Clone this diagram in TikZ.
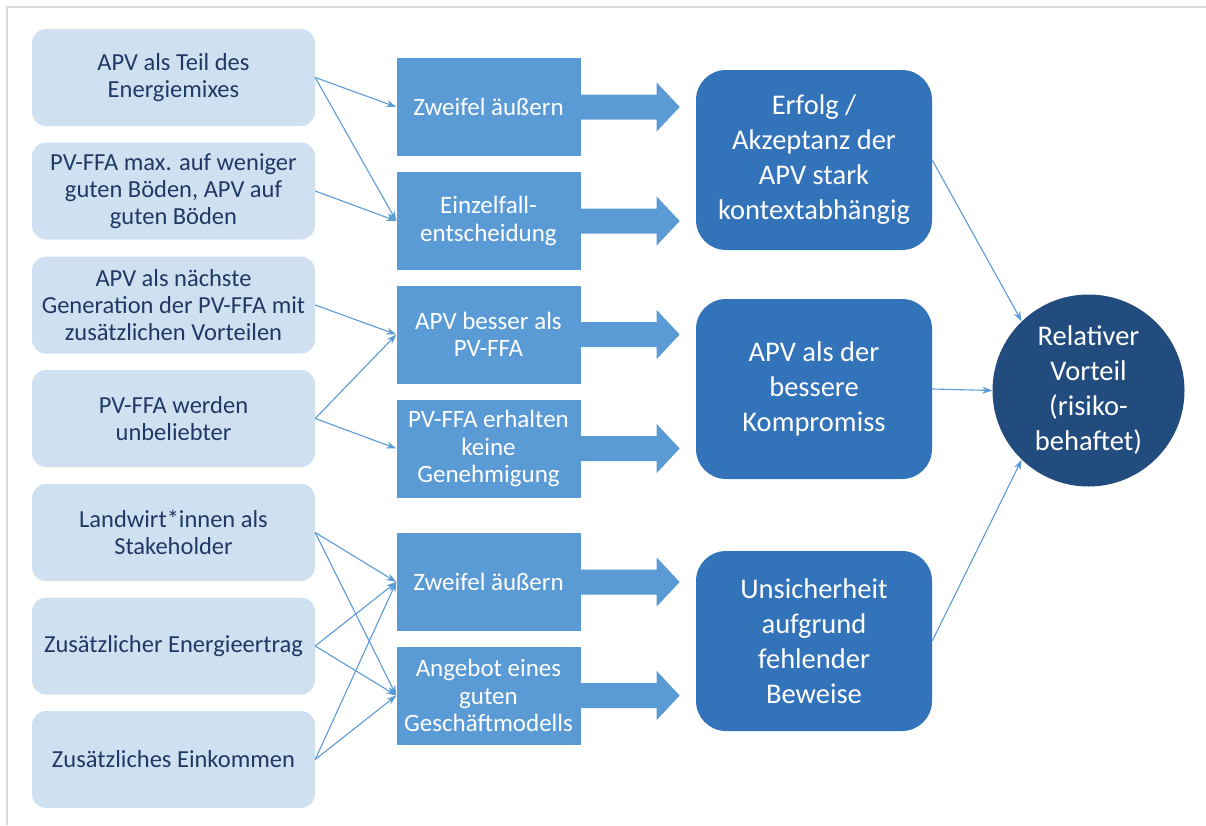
\documentclass[tikz,border=0pt]{standalone}
\usepackage{fontspec}
\setmainfont{Carlito}
\usetikzlibrary{arrows.meta,calc}
\definecolor{lightbox}{HTML}{CFE0F1}
\definecolor{midbox}{HTML}{5B9BD5}
\definecolor{darkbox}{HTML}{3373B9}
\definecolor{navy}{HTML}{224C7E}
\definecolor{txt}{HTML}{203864}
\definecolor{framegray}{HTML}{DADADA}
\begin{document}
\begin{tikzpicture}[x=1pt,y=-1pt,
  lbox/.style={fill=lightbox, rounded corners=14pt, minimum width=283pt, minimum height=97pt, align=center, text=txt, font=\fontsize{24.5}{27}\selectfont, inner sep=0pt},
  mbox/.style={fill=midbox, minimum width=184pt, minimum height=98pt, align=center, text=white, font=\fontsize{25}{27.5}\selectfont, inner sep=0pt},
  rbox/.style={fill=darkbox, rounded corners=30pt, minimum width=236pt, minimum height=180pt, align=center, text=white, font=\fontsize{28.5}{35}\selectfont, inner sep=0pt},
  circ/.style={circle, fill=navy, minimum size=192pt, align=center, text=white, font=\fontsize{28.5}{35}\selectfont, inner sep=0pt},
  conn/.style={draw=midbox, line width=1.1pt, -{Stealth[length=10pt,width=7pt]}},
  blockarrow/.style={fill=midbox},
  framepen/.style={draw=framegray, line width=1.5pt}
]
\useasboundingbox (0,0) rectangle (1206,825);
\draw[framepen] (7,825) -- (7,7) -- (1206,7);

% left boxes
\node[lbox] (L1) at (173.5,77.5) {APV als Teil des\\Energiemixes};
\node[lbox] (L2) at (173.5,191) {PV-FFA max. auf weniger\\guten Böden, APV auf\\guten Böden};
\node[lbox] (L3) at (173.5,305) {APV als nächste\\Generation der PV-FFA mit\\zusätzlichen Vorteilen};
\node[lbox] (L4) at (173.5,418.5) {PV-FFA werden\\unbeliebter};
\node[lbox] (L5) at (173.5,532.5) {Landwirt*innen als\\Stakeholder};
\node[lbox] (L6) at (173.5,646) {Zusätzlicher Energieertrag};
\node[lbox] (L7) at (173.5,759.5) {Zusätzliches Einkommen};

% middle boxes
\node[mbox] (M1) at (488.5,107) {Zweifel äußern};
\node[mbox] (M2) at (488.5,221) {Einzelfall-\\entscheidung};
\node[mbox] (M3) at (488.5,334.5) {APV besser als\\PV-FFA};
\node[mbox] (M4) at (488.5,448.5) {PV-FFA erhalten\\keine\\Genehmigung};
\node[mbox] (M5) at (488.5,582) {Zweifel äußern};
\node[mbox] (M6) at (488.5,695.5) {Angebot eines\\guten\\Geschäftmodells};

% block arrows
\foreach \m in {M1,M2,M3,M4,M5,M6}{
  \fill[blockarrow] ($(\m.east)+(0,-12.5)$) -- ++(76,0) -- ++(0,-12) -- ($(\m.east)+(99,0)$)
    -- ($(\m.east)+(76,24.5)$) -- ++(0,-12) -- ($(\m.east)+(0,12.5)$) -- cycle;
}

% right boxes
\node[rbox] (R1) at (814,160) {Erfolg /\\Akzeptanz der\\APV stark\\kontextabhängig};
\node[rbox] (R2) at (814,389) {APV als der\\bessere\\Kompromiss};
\node[rbox] (R3) at (814,641) {Unsicherheit\\aufgrund\\fehlender\\Beweise};

% circle
\node[circ] (C) at (1088.5,390.5) {Relativer\\Vorteil\\(risiko-\\behaftet)};

% connectors
\draw[conn] (L1.east) -- (M1.west);
\draw[conn] (L1.east) -- (M2.west);
\draw[conn] (L2.east) -- (M2.west);
\draw[conn] (L3.east) -- (M3.west);
\draw[conn] (L4.east) -- (M3.west);
\draw[conn] (L4.east) -- (M4.west);
\draw[conn] (L5.east) -- (M5.west);
\draw[conn] (L5.east) -- (M6.west);
\draw[conn] (L6.east) -- (M5.west);
\draw[conn] (L6.east) -- (M6.west);
\draw[conn] (L7.east) -- (M5.west);
\draw[conn] (L7.east) -- (M6.west);
\draw[conn] (R1.east) -- (C.134);
\draw[conn] (R2.east) -- (C.west);
\draw[conn] (R3.east) -- (C.226);
\end{tikzpicture}
\end{document}
